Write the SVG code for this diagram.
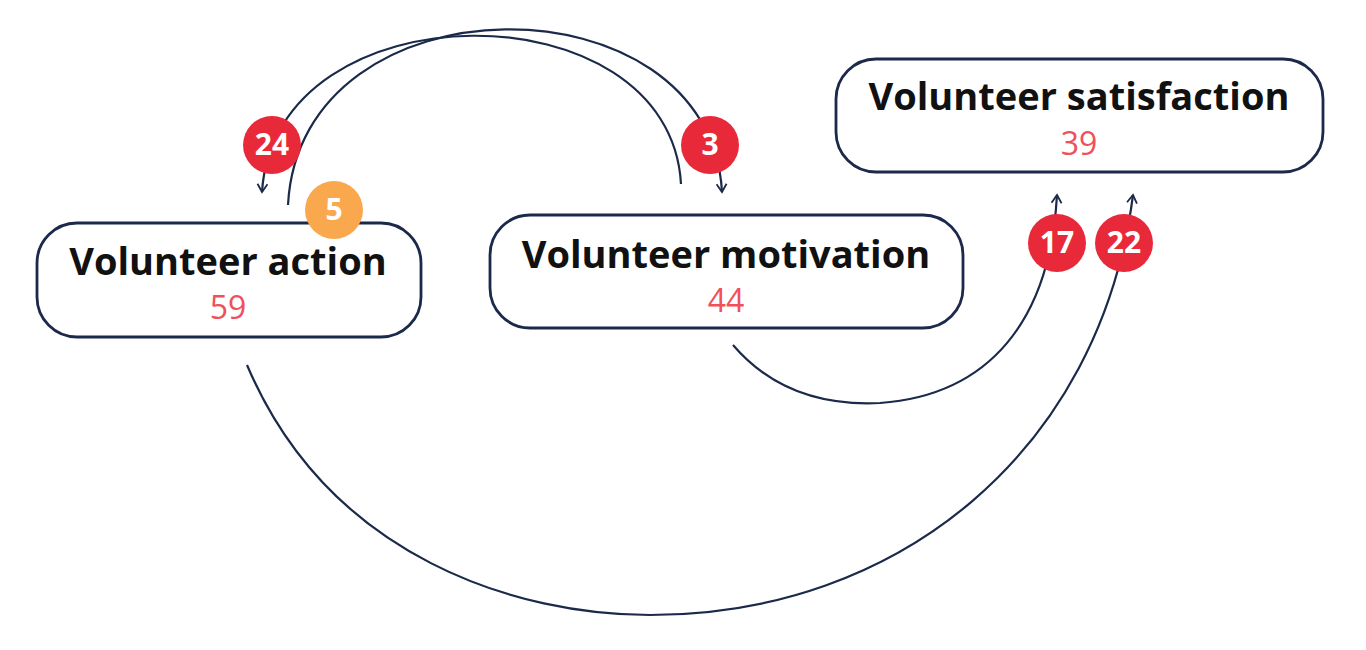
<svg xmlns="http://www.w3.org/2000/svg" width="1366" height="650" viewBox="0 0 1366 650">
<style>
.box{fill:#fff;stroke:#1b2a4a;stroke-width:2.8}
.t{font-family:"Open Sans",sans-serif;font-weight:bold;font-size:38px;fill:#111;text-anchor:middle}
.n{font-family:"Open Sans",sans-serif;font-size:32px;fill:#f0505a;text-anchor:middle}
.c{fill:none;stroke:#1b2a4a;stroke-width:2.2}
.b{font-family:"Open Sans",sans-serif;font-weight:bold;font-size:30px;fill:#fff;text-anchor:middle}
</style>
<defs>
<marker id="a" viewBox="0 0 12 12" refX="10" refY="6" markerWidth="12" markerHeight="12" markerUnits="userSpaceOnUse" orient="auto">
<path d="M2,1 L10,6 L2,11" fill="none" stroke="#1b2a4a" stroke-width="1.8"/>
</marker>
</defs>
<rect width="1366" height="650" fill="#fff"/>
<g id="connectors">
<path class="c" d="M681,184 C670,-15 275,-15 262,192" marker-end="url(#a)"/>
<path class="c" d="M288,205 C300,-27 710,-27 722,192" marker-end="url(#a)"/>
<path class="c" d="M247,365 C330,560 520,615 650,615 C900,615 1100,450 1133,195" marker-end="url(#a)"/>
<path class="c" d="M733,345 C780,400 840,405 880,403 C990,395 1050,320 1057,195" marker-end="url(#a)"/>
</g>
<g id="action"><rect class="box" x="37" y="223" width="384" height="114" rx="40"/><text class="t" x="228" y="275">Volunteer action</text><text class="n" x="228" y="319">59</text></g>
<g id="motivation"><rect class="box" x="490" y="215" width="473" height="113" rx="40"/><text class="t" x="726" y="268">Volunteer motivation</text><text class="n" x="726" y="312">44</text></g>
<g id="satisfaction"><rect class="box" x="836" y="59" width="487" height="113" rx="40"/><text class="t" x="1079" y="110">Volunteer satisfaction</text><text class="n" x="1079" y="155">39</text></g>
<g id="badges">
<circle cx="272" cy="145" r="29" fill="#e8293a"/><text class="b" x="272" y="155">24</text>
<circle cx="710" cy="145" r="29" fill="#e8293a"/><text class="b" x="710" y="155">3</text>
<circle cx="334" cy="210" r="29" fill="#f9a84e"/><text class="b" x="334" y="220">5</text>
<circle cx="1057" cy="243" r="29" fill="#e8293a"/><text class="b" x="1057" y="253">17</text>
<circle cx="1124" cy="243" r="29" fill="#e8293a"/><text class="b" x="1124" y="253">22</text>
</g>
</svg>
